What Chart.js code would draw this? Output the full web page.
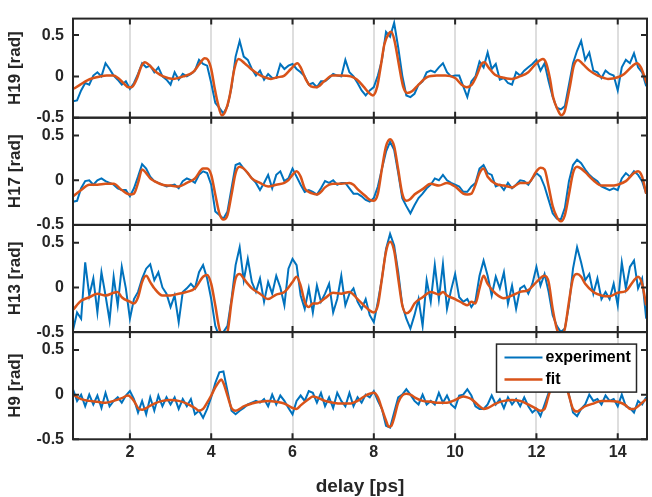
<!DOCTYPE html>
<html>
<head>
<meta charset="utf-8">
<script src="https://cdn.jsdelivr.net/npm/chart.js@4.4.0/dist/chart.umd.min.js"></script>
<style>
  html, body { margin: 0; padding: 0; background: #fff; }
  #wrap { position: relative; width: 652px; height: 497px; }
  #wrap canvas { position: absolute; left: 0; top: 0; }
</style>
</head>
<body>
<div id="wrap">
  <canvas id="h19" width="652" height="497"></canvas>
  <canvas id="h17" width="652" height="497"></canvas>
  <canvas id="h13" width="652" height="497"></canvas>
  <canvas id="h9" width="652" height="497"></canvas>
</div>
<script>
// delay axis of the measured traces [ps]
const delay = [
  0.6, 0.7, 0.8, 0.9, 1.0, 1.1, 1.2, 1.3, 1.4, 1.5,
  1.6, 1.7, 1.8, 1.9, 2.0, 2.1, 2.2, 2.3, 2.4, 2.5,
  2.6, 2.7, 2.8, 2.9, 3.0, 3.1, 3.2, 3.3, 3.4, 3.5,
  3.6, 3.7, 3.8, 3.9, 4.0, 4.1, 4.2, 4.3, 4.4, 4.5,
  4.6, 4.7, 4.8, 4.9, 5.0, 5.1, 5.2, 5.3, 5.4, 5.5,
  5.6, 5.7, 5.8, 5.9, 6.0, 6.1, 6.2, 6.3, 6.4, 6.5,
  6.6, 6.7, 6.8, 6.9, 7.0, 7.1, 7.2, 7.3, 7.4, 7.5,
  7.6, 7.7, 7.8, 7.9, 8.0, 8.1, 8.2, 8.3, 8.4, 8.5,
  8.6, 8.7, 8.8, 8.9, 9.0, 9.1, 9.2, 9.3, 9.4, 9.5,
  9.6, 9.7, 9.8, 9.9, 10.0, 10.1, 10.2, 10.3, 10.4, 10.5,
  10.6, 10.7, 10.8, 10.9, 11.0, 11.1, 11.2, 11.3, 11.4, 11.5,
  11.6, 11.7, 11.8, 11.9, 12.0, 12.1, 12.2, 12.3, 12.4, 12.5,
  12.6, 12.7, 12.8, 12.9, 13.0, 13.1, 13.2, 13.3, 13.4, 13.5,
  13.6, 13.7, 13.8, 13.9, 14.0, 14.1, 14.2, 14.3, 14.4, 14.5,
  14.6, 14.7
];

// experiment [rad]
const h19Exp = [
  -0.30, -0.29, -0.17, -0.08, -0.10, 0.01, 0.05, 0.00, 0.16, 0.09,
  0.01, -0.04, -0.10, -0.06, -0.15, -0.08, 0.03, 0.16, 0.11, 0.13,
  0.05, 0.11, 0.00, -0.04, -0.10, 0.05, -0.04, 0.03, 0.00, 0.03,
  0.07, 0.20, 0.15, 0.13, -0.08, -0.32, -0.38, -0.45, -0.36, -0.13,
  0.24, 0.43, 0.24, 0.20, 0.09, 0.01, 0.07, -0.04, 0.03, -0.02,
  -0.02, 0.15, 0.09, 0.13, 0.15, 0.09, 0.05, 0.00, -0.10, -0.08,
  -0.13, -0.06, -0.06, -0.02, 0.03, 0.01, 0.00, 0.20, 0.05, 0.00,
  -0.08, -0.17, -0.23, -0.17, -0.13, 0.01, 0.20, 0.54, 0.48, 0.65,
  0.35, 0.01, -0.23, -0.25, -0.21, -0.10, -0.06, 0.05, 0.07, 0.05,
  0.11, 0.16, 0.05, 0.00, 0.01, 0.01, -0.12, -0.25, -0.06, 0.00,
  0.18, 0.11, 0.29, 0.09, 0.15, -0.04, -0.02, -0.08, -0.10, 0.05,
  0.01, 0.07, 0.11, 0.15, 0.20, 0.07, 0.16, -0.06, -0.25, -0.38,
  -0.40, -0.36, -0.10, 0.16, 0.31, 0.43, 0.20, 0.29, 0.07, 0.05,
  -0.02, 0.07, 0.03, 0.01, -0.17, 0.11, 0.20, 0.16, 0.28, 0.11,
  0.05, -0.12
];
const h17Exp = [
  -0.24, -0.23, -0.09, -0.01, 0.00, -0.05, 0.00, 0.02, -0.01, -0.03,
  -0.05, -0.09, -0.11, -0.11, -0.18, -0.09, 0.04, 0.18, 0.13, 0.04,
  -0.01, -0.03, -0.05, -0.07, -0.06, -0.05, -0.09, -0.01, 0.02, 0.00,
  -0.03, 0.06, 0.10, 0.08, -0.05, -0.35, -0.39, -0.43, -0.35, -0.09,
  0.17, 0.19, 0.13, 0.08, 0.02, -0.03, -0.11, -0.03, 0.06, -0.09,
  0.06, 0.10, -0.01, 0.02, 0.13, 0.04, -0.05, -0.13, -0.11, -0.13,
  -0.16, -0.09, -0.01, -0.03, 0.00, -0.05, -0.03, -0.03, -0.09, -0.15,
  -0.15, -0.18, -0.22, -0.24, -0.20, -0.07, 0.13, 0.32, 0.43, 0.34,
  0.08, -0.20, -0.29, -0.37, -0.28, -0.20, -0.15, -0.09, -0.05, 0.02,
  0.00, 0.06, 0.00, -0.03, -0.05, -0.07, -0.13, -0.13, -0.07, -0.03,
  0.13, 0.17, 0.08, 0.06, -0.07, -0.05, -0.11, -0.03, -0.09, -0.05,
  0.00, -0.01, -0.05, 0.02, 0.08, 0.04, -0.07, -0.22, -0.37, -0.43,
  -0.44, -0.31, -0.01, 0.17, 0.23, 0.19, 0.12, 0.06, 0.02, -0.01,
  -0.07, -0.09, -0.11, -0.09, -0.11, 0.02, 0.08, 0.04, 0.10, 0.06,
  -0.01, -0.15
];
const h13Exp = [
  -0.48, -0.28, -0.35, 0.28, -0.09, 0.10, -0.28, 0.17, -0.09, -0.37,
  0.12, -0.20, 0.23, -0.01, -0.35, -0.13, -0.05, 0.10, 0.21, 0.26,
  0.08, 0.17, 0.00, -0.07, -0.22, -0.09, -0.39, -0.05, -0.01, 0.04,
  -0.01, 0.17, 0.25, 0.10, -0.13, -0.43, -0.55, -0.50, -0.43, -0.13,
  0.25, 0.45, 0.08, 0.32, 0.06, -0.05, 0.10, -0.16, 0.06, -0.07,
  0.13, 0.00, -0.20, 0.21, 0.32, 0.25, -0.09, -0.24, -0.01, -0.28,
  0.02, -0.16, -0.07, 0.04, -0.28, -0.13, 0.13, -0.20, -0.07, -0.01,
  -0.16, -0.24, -0.13, -0.31, -0.39, -0.16, 0.10, 0.43, 0.60, 0.47,
  0.17, -0.20, -0.35, -0.46, -0.31, -0.13, -0.43, 0.08, -0.16, 0.25,
  -0.13, 0.26, -0.24, -0.03, 0.15, -0.11, -0.16, -0.13, -0.22, -0.15,
  0.13, 0.30, 0.13, -0.09, 0.12, -0.01, 0.17, -0.18, 0.02, -0.24,
  -0.01, 0.02, -0.07, 0.04, 0.23, 0.02, 0.15, -0.05, -0.31, -0.43,
  -0.50, -0.46, -0.20, 0.21, 0.45, 0.28, 0.08, 0.15, -0.07, 0.10,
  -0.13, -0.05, -0.13, 0.04, -0.20, 0.28, -0.01, 0.23, 0.30, -0.01,
  0.10, -0.35
];
const h9Exp = [
  0.06, -0.07, 0.00, -0.13, 0.00, -0.11, -0.01, -0.15, 0.02, -0.13,
  -0.07, -0.03, -0.09, -0.01, 0.04, -0.05, -0.20, -0.07, -0.22, -0.03,
  -0.18, -0.01, -0.13, -0.03, -0.11, -0.03, -0.16, -0.05, -0.13, -0.05,
  -0.22, -0.18, -0.26, -0.16, -0.03, 0.13, 0.25, 0.26, 0.04, -0.18,
  -0.22, -0.18, -0.15, -0.11, -0.09, -0.07, -0.09, -0.05, -0.13, 0.00,
  -0.11, -0.01, -0.07, -0.15, -0.22, -0.07, -0.01, -0.07, 0.04, 0.02,
  -0.09, 0.02, -0.13, -0.03, -0.15, 0.02, -0.07, -0.13, 0.02, -0.13,
  -0.03, -0.09, 0.00, -0.03, 0.04, -0.07, -0.16, -0.35, -0.37, -0.20,
  -0.03, 0.00, 0.06, 0.00, -0.07, -0.11, 0.00, -0.11, -0.07, -0.11,
  0.02, -0.09, -0.01, -0.11, -0.15, -0.01, 0.00, 0.06, -0.01, -0.13,
  -0.16, -0.16, -0.11, -0.01, -0.11, -0.05, -0.15, -0.03, -0.11, -0.05,
  -0.13, -0.03, -0.13, -0.20, -0.16, -0.24, -0.11, 0.02, 0.15, 0.22,
  0.30, 0.18, 0.00, -0.20, -0.24, -0.16, -0.11, 0.00, -0.07, -0.05,
  -0.11, -0.01, -0.07, -0.05, -0.13, 0.00, -0.13, -0.15, -0.20, -0.07,
  -0.11, -0.03
];

// fit curves [rad] with their own delay samples [ps]
const h19FitDelay = [0.62, 0.78, 0.94, 1.10, 1.27, 1.43, 1.59, 1.71, 1.84, 1.96, 2.04, 2.16, 2.29, 2.37, 2.49, 2.65, 2.82, 3.06, 3.31, 3.55, 3.71, 3.84, 3.92, 4.00, 4.08, 4.16, 4.26, 4.34, 4.45, 4.57, 4.67, 4.82, 4.98, 5.18, 5.31, 5.47, 5.63, 5.80, 5.96, 6.12, 6.20, 6.33, 6.45, 6.59, 6.78, 6.98, 7.18, 7.43, 7.59, 7.76, 7.88, 7.98, 8.08, 8.16, 8.26, 8.37, 8.43, 8.51, 8.61, 8.72, 8.82, 8.94, 9.10, 9.31, 9.55, 9.76, 10.00, 10.16, 10.29, 10.41, 10.53, 10.65, 10.72, 10.82, 10.98, 11.14, 11.39, 11.59, 11.80, 12.00, 12.16, 12.24, 12.33, 12.41, 12.53, 12.61, 12.69, 12.82, 12.92, 13.02, 13.14, 13.31, 13.51, 13.76, 14.00, 14.16, 14.37, 14.47, 14.57, 14.71];
const h19Fit = [-0.15, -0.10, -0.05, -0.02, 0.00, 0.01, 0.01, -0.02, -0.08, -0.13, -0.13, -0.04, 0.13, 0.17, 0.13, 0.05, 0.00, -0.03, 0.00, 0.05, 0.15, 0.22, 0.20, 0.09, -0.13, -0.32, -0.47, -0.43, -0.25, 0.09, 0.21, 0.16, 0.09, 0.02, -0.01, -0.03, -0.01, 0.01, 0.09, 0.16, 0.11, -0.04, -0.12, -0.13, -0.06, 0.01, 0.01, 0.00, -0.04, -0.13, -0.20, -0.23, -0.13, 0.09, 0.39, 0.52, 0.54, 0.43, 0.16, -0.12, -0.20, -0.18, -0.10, -0.01, 0.01, 0.01, -0.02, -0.10, -0.13, -0.10, 0.01, 0.15, 0.17, 0.11, 0.02, -0.01, -0.03, 0.00, 0.05, 0.16, 0.21, 0.16, -0.02, -0.25, -0.41, -0.47, -0.43, -0.13, 0.13, 0.20, 0.15, 0.07, 0.01, -0.03, -0.01, 0.03, 0.13, 0.16, 0.11, -0.08];

const h17FitDelay = [0.6, 0.8, 1.0, 1.2, 1.4, 1.6, 1.8, 2.0, 2.1, 2.2, 2.3, 2.4, 2.5, 2.6, 2.8, 3.0, 3.2, 3.4, 3.6, 3.8, 3.9, 4.0, 4.1, 4.2, 4.3, 4.4, 4.5, 4.6, 4.7, 4.8, 4.9, 5.0, 5.2, 5.4, 5.6, 5.8, 5.9, 6.0, 6.1, 6.2, 6.3, 6.4, 6.5, 6.6, 6.7, 6.8, 7.0, 7.2, 7.4, 7.5, 7.6, 7.8, 7.9, 8.0, 8.1, 8.2, 8.3, 8.4, 8.5, 8.6, 8.7, 8.8, 8.9, 9.0, 9.2, 9.4, 9.6, 9.8, 10.0, 10.2, 10.3, 10.4, 10.5, 10.6, 10.7, 10.8, 11.0, 11.2, 11.4, 11.6, 11.8, 12.0, 12.1, 12.2, 12.3, 12.4, 12.5, 12.6, 12.7, 12.8, 12.9, 13.0, 13.1, 13.2, 13.4, 13.6, 13.8, 14.0, 14.2, 14.4, 14.5, 14.6, 14.7];
const h17Fit = [-0.18, -0.11, -0.05, -0.05, -0.04, -0.04, -0.11, -0.16, -0.15, -0.03, 0.12, 0.08, 0.02, -0.01, -0.05, -0.06, -0.07, -0.03, 0.02, 0.13, 0.13, 0.06, -0.16, -0.37, -0.44, -0.39, -0.16, 0.08, 0.15, 0.13, 0.08, 0.02, -0.03, -0.07, -0.05, -0.03, 0.00, 0.06, 0.10, 0.04, -0.09, -0.13, -0.15, -0.16, -0.13, -0.08, -0.04, -0.04, -0.03, -0.05, -0.10, -0.18, -0.22, -0.23, -0.15, 0.13, 0.38, 0.46, 0.38, 0.12, -0.15, -0.23, -0.21, -0.16, -0.10, -0.04, -0.06, -0.03, -0.07, -0.15, -0.16, -0.15, -0.05, 0.08, 0.13, 0.04, -0.04, -0.06, -0.08, -0.03, -0.03, 0.10, 0.14, 0.12, -0.07, -0.29, -0.41, -0.46, -0.39, -0.16, 0.08, 0.15, 0.13, 0.09, 0.00, -0.06, -0.06, -0.05, -0.01, 0.08, 0.10, 0.04, -0.15];

const h13FitDelay = [0.6, 0.8, 1.0, 1.2, 1.4, 1.6, 1.7, 1.8, 2.0, 2.1, 2.2, 2.3, 2.4, 2.5, 2.6, 2.8, 3.0, 3.2, 3.4, 3.6, 3.8, 3.9, 4.0, 4.1, 4.2, 4.3, 4.4, 4.5, 4.6, 4.7, 4.8, 4.9, 5.0, 5.2, 5.4, 5.6, 5.8, 6.0, 6.1, 6.2, 6.3, 6.4, 6.5, 6.6, 6.8, 7.0, 7.2, 7.4, 7.6, 7.8, 7.9, 8.0, 8.1, 8.2, 8.3, 8.4, 8.5, 8.6, 8.7, 8.8, 8.9, 9.0, 9.2, 9.4, 9.6, 9.7, 9.8, 10.0, 10.2, 10.3, 10.4, 10.5, 10.6, 10.7, 10.8, 11.0, 11.2, 11.4, 11.6, 11.8, 12.0, 12.2, 12.3, 12.4, 12.5, 12.6, 12.7, 12.8, 12.9, 13.0, 13.1, 13.2, 13.4, 13.6, 13.8, 14.0, 14.2, 14.4, 14.5, 14.6, 14.7];
const h13Fit = [-0.25, -0.15, -0.11, -0.07, -0.09, -0.06, -0.05, -0.11, -0.16, -0.18, -0.11, 0.06, 0.13, 0.06, -0.01, -0.09, -0.09, -0.07, -0.05, -0.01, 0.12, 0.14, 0.04, -0.20, -0.46, -0.56, -0.50, -0.16, 0.10, 0.15, 0.10, 0.04, -0.01, -0.07, -0.13, -0.08, -0.05, 0.06, 0.12, 0.02, -0.16, -0.22, -0.18, -0.18, -0.12, -0.06, -0.07, -0.05, -0.13, -0.22, -0.26, -0.28, -0.20, 0.10, 0.40, 0.51, 0.41, 0.10, -0.20, -0.29, -0.26, -0.18, -0.11, -0.05, -0.08, -0.05, -0.09, -0.13, -0.18, -0.20, -0.16, -0.18, -0.01, 0.13, 0.04, -0.07, -0.12, -0.09, -0.05, -0.03, 0.06, 0.13, 0.06, -0.24, -0.46, -0.54, -0.46, -0.16, 0.10, 0.15, 0.12, 0.04, -0.05, -0.09, -0.10, -0.06, -0.04, 0.08, 0.12, 0.04, -0.20];

const h9FitDelay = [0.6, 0.8, 1.0, 1.2, 1.4, 1.6, 1.8, 1.95, 2.1, 2.2, 2.3, 2.4, 2.6, 2.8, 3.0, 3.2, 3.4, 3.6, 3.7, 3.8, 3.9, 4.0, 4.1, 4.2, 4.25, 4.3, 4.4, 4.5, 4.6, 4.7, 4.8, 5.0, 5.2, 5.4, 5.6, 5.8, 6.0, 6.1, 6.2, 6.4, 6.5, 6.6, 6.8, 7.0, 7.2, 7.4, 7.6, 7.8, 7.9, 8.0, 8.1, 8.2, 8.3, 8.37, 8.43, 8.5, 8.6, 8.7, 8.8, 8.9, 9.0, 9.2, 9.4, 9.6, 9.8, 10.0, 10.2, 10.3, 10.4, 10.6, 10.7, 10.8, 11.0, 11.2, 11.4, 11.6, 11.8, 12.0, 12.1, 12.2, 12.3, 12.4, 12.5, 12.6, 12.7, 12.8, 12.9, 13.0, 13.1, 13.2, 13.4, 13.6, 13.8, 14.0, 14.2, 14.3, 14.4, 14.5, 14.6, 14.7];
const h9Fit = [0.00, -0.05, -0.07, -0.08, -0.09, -0.07, -0.04, -0.01, -0.07, -0.15, -0.17, -0.15, -0.10, -0.07, -0.06, -0.07, -0.10, -0.15, -0.18, -0.16, -0.09, -0.01, 0.08, 0.15, 0.17, 0.13, -0.01, -0.15, -0.18, -0.16, -0.13, -0.10, -0.08, -0.07, -0.08, -0.10, -0.15, -0.16, -0.12, -0.05, -0.02, -0.03, -0.07, -0.09, -0.10, -0.10, -0.07, -0.01, 0.01, 0.02, -0.03, -0.16, -0.29, -0.36, -0.35, -0.26, -0.09, -0.01, 0.01, 0.00, -0.03, -0.07, -0.08, -0.09, -0.09, -0.06, -0.02, -0.03, -0.05, -0.13, -0.16, -0.15, -0.10, -0.07, -0.06, -0.07, -0.11, -0.16, -0.18, -0.16, -0.01, 0.12, 0.18, 0.22, 0.15, -0.01, -0.16, -0.19, -0.16, -0.13, -0.10, -0.07, -0.07, -0.08, -0.12, -0.16, -0.16, -0.13, -0.09, -0.05];

const xTicks = [2, 4, 6, 8, 10, 12, 14];
const xTickLabels = ['2', '4', '6', '8', '10', '12', '14'];
const yTicks = [-0.5, 0, 0.5];
const yTickLabels = ['-0.5', '0', '0.5'];

const panels = [
  { id: 'h19', label: 'H19 [rad]', exp: h19Exp, fitDelay: h19FitDelay, fit: h19Fit },
  { id: 'h17', label: 'H17 [rad]', exp: h17Exp, fitDelay: h17FitDelay, fit: h17Fit },
  { id: 'h13', label: 'H13 [rad]', exp: h13Exp, fitDelay: h13FitDelay, fit: h13Fit },
  { id: 'h9', label: 'H9 [rad]', exp: h9Exp, fitDelay: h9FitDelay, fit: h9Fit }
];

const BLUE = '#0072BD';
const ORANGE = '#D95319';
const AXIS = '#262626';
const FONT = 'Liberation Sans, Arial, Helvetica, sans-serif';

const panelTops = [10.5, 117.7, 224.9, 332.1];
const panelH = 107.2;
const tickLen = 6;

// box round each panel, with inward ticks like matlab
const boxPlugin = {
  id: 'box',
  afterDatasetsDraw(chart) {
    const { ctx, chartArea: a, scales: { x, y } } = chart;
    ctx.save();
    ctx.strokeStyle = AXIS;
    ctx.lineWidth = 2;
    ctx.beginPath();
    xTicks.forEach(v => {
      const px = x.getPixelForValue(v);
      ctx.moveTo(px, a.top); ctx.lineTo(px, a.top + tickLen);
      ctx.moveTo(px, a.bottom); ctx.lineTo(px, a.bottom - tickLen);
    });
    yTicks.forEach(v => {
      const py = y.getPixelForValue(v);
      ctx.moveTo(a.left, py); ctx.lineTo(a.left + tickLen, py);
      ctx.moveTo(a.right, py); ctx.lineTo(a.right - tickLen, py);
    });
    ctx.stroke();
    ctx.strokeRect(a.left, a.top, a.right - a.left, a.bottom - a.top);
    ctx.restore();
  }
};

// legend box inside the bottom panel
const legendBox = {
  id: 'legendBox',
  afterDraw(chart) {
    const { ctx, chartArea: a } = chart;
    const w = 140, h = 48;
    const left = a.right - 10.5 - w, top = a.top + 12;
    ctx.save();
    ctx.fillStyle = '#fff';
    ctx.fillRect(left, top, w, h);
    ctx.strokeStyle = AXIS;
    ctx.lineWidth = 1.5;
    ctx.strokeRect(left, top, w, h);
    const items = [chart.data.datasets[1], chart.data.datasets[0]];
    ctx.font = 'bold 16px ' + FONT;
    ctx.textBaseline = 'middle';
    ctx.fillStyle = '#000';
    items.forEach((ds, i) => {
      const yy = top + 13.5 + i * 22;
      ctx.strokeStyle = ds.borderColor;
      ctx.lineWidth = ds.borderWidth;
      ctx.beginPath();
      ctx.moveTo(left + 8, yy); ctx.lineTo(left + 46, yy);
      ctx.stroke();
      ctx.fillText(ds.label, left + 49, yy);
    });
    ctx.restore();
  }
};

panels.forEach((p, i) => {
  const last = i === panels.length - 1;
  const top = panelTops[i];
  new Chart(document.getElementById(p.id), {
    type: 'line',
    data: {
      datasets: [
        {
          label: 'fit',
          data: p.fitDelay.map((d, k) => ({ x: d, y: p.fit[k] })),
          borderColor: ORANGE,
          borderWidth: 2.5,
          pointRadius: 0,
          cubicInterpolationMode: 'monotone',
          order: 0
        },
        {
          label: 'experiment',
          data: delay.map((d, k) => ({ x: d, y: p.exp[k] })),
          borderColor: BLUE,
          borderWidth: 2,
          pointRadius: 0,
          tension: 0,
          order: 1
        }
      ]
    },
    options: {
      responsive: false,
      animation: false,
      events: [],
      layout: { padding: { left: 0, right: 5, top: top, bottom: last ? 0 : 497 - top - panelH } },
      plugins: { legend: { display: false }, tooltip: { enabled: false } },
      scales: {
        x: {
          type: 'linear',
          min: 0.6,
          max: 14.72,
          afterBuildTicks: s => { s.ticks = xTicks.map(v => ({ value: v })); },
          afterFit: s => { if (last) s.height = 497 - top - panelH; },
          grid: { color: '#dedede', lineWidth: 2, drawTicks: false },
          border: { display: false },
          ticks: {
            display: last,
            padding: 4,
            color: AXIS,
            font: { family: FONT, size: 16, weight: 'bold' },
            callback: (v, k) => xTickLabels[k]
          },
          title: {
            display: last,
            text: 'delay [ps]',
            color: AXIS,
            font: { family: FONT, size: 19, weight: 'bold', lineHeight: 1 },
            padding: { top: 0, bottom: 1 }
          }
        },
        y: {
          min: -0.5,
          max: 0.7,
          afterBuildTicks: s => { s.ticks = yTicks.map(v => ({ value: v })); },
          afterFit: s => { s.width = 73; },
          grid: { display: false, drawTicks: false },
          border: { display: false },
          ticks: {
            padding: 9,
            color: AXIS,
            font: { family: FONT, size: 16, weight: 'bold' },
            callback: (v, k) => yTickLabels[k]
          },
          title: {
            display: true,
            text: p.label,
            color: AXIS,
            font: { family: FONT, size: 17, weight: 'bold' },
            padding: { top: 5, bottom: 0 }
          }
        }
      }
    },
    plugins: last ? [boxPlugin, legendBox] : [boxPlugin]
  });
});
</script>
</body>
</html>
